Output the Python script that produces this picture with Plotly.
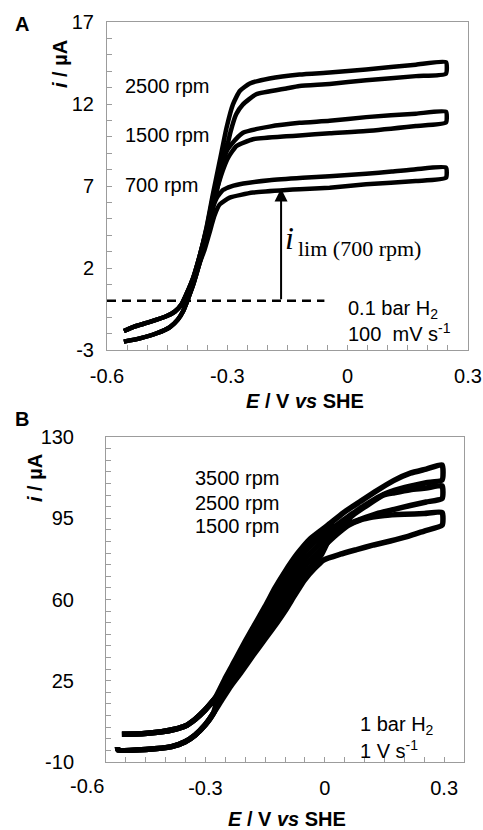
import plotly.graph_objects as go

# ---------------- data ----------------
# Panel A: 0.1 bar H2, 100 mV/s. Common low-potential part of the loops
E_A_left_up = [-0.558, -0.535, -0.493, -0.451, -0.431, -0.414, -0.402, -0.385, -0.369]
I_A_left_up = [-1.84, -1.60, -1.29, -0.93, -0.66, -0.21, 0.40, 1.41, 2.73]
E_A_left_dn = [-0.369, -0.385, -0.400, -0.410, -0.423, -0.443, -0.476, -0.518, -0.558]
I_A_left_dn = [2.32, 1.00, -0.01, -0.62, -1.13, -1.60, -1.98, -2.29, -2.49]

E_A_700_up = [-0.352, -0.340, -0.327, -0.311, -0.290, -0.260, -0.195, -0.112, -0.045, 0.046, 0.110, 0.170, 0.245]
I_A_700_up = [4.30, 5.40, 6.25, 6.75, 6.98, 7.15, 7.35, 7.50, 7.60, 7.75, 7.88, 8.02, 8.12]
E_A_700_dn = [0.245, 0.170, 0.046, -0.045, -0.120, -0.153, -0.236, -0.294, -0.319, -0.332, -0.345, -0.357]
I_A_700_dn = [7.50, 7.30, 7.10, 6.90, 6.80, 6.76, 6.60, 6.29, 5.88, 5.20, 4.10, 3.10]

E_A_1500_up = [-0.352, -0.336, -0.320, -0.305, -0.290, -0.261, -0.195, -0.120, -0.045, 0.046, 0.170, 0.245]
I_A_1500_up = [4.40, 6.30, 8.00, 9.00, 9.54, 10.25, 10.62, 10.85, 10.98, 11.20, 11.41, 11.53]
E_A_1500_dn = [0.245, 0.170, 0.046, -0.045, -0.120, -0.153, -0.236, -0.277, -0.298, -0.312, -0.328, -0.345, -0.358]
I_A_1500_dn = [10.87, 10.66, 10.35, 10.22, 10.08, 10.03, 9.85, 9.44, 8.73, 7.90, 6.60, 4.80, 3.20]

E_A_2500_up = [-0.352, -0.336, -0.319, -0.302, -0.286, -0.269, -0.244, -0.195, -0.120, -0.045, 0.046, 0.170, 0.245]
I_A_2500_up = [4.46, 6.50, 8.52, 10.55, 11.98, 12.79, 13.25, 13.56, 13.80, 13.92, 14.10, 14.40, 14.55]
E_A_2500_dn = [0.245, 0.170, 0.046, -0.045, -0.120, -0.153, -0.228, -0.261, -0.278, -0.292, -0.305, -0.320, -0.337, -0.352, -0.362]
I_A_2500_dn = [13.85, 13.70, 13.45, 13.22, 13.10, 12.95, 12.59, 11.98, 11.37, 10.30, 8.90, 7.40, 5.60, 4.10, 3.00]

A_baseline_E = [-0.6, -0.058]
A_baseline_I = 0.0
A_arrow_E = -0.166
A_arrow_tip_I = 6.85

# Panel B: 1 bar H2, 1 V/s
E_B_left_up = [-0.510, -0.460, -0.410, -0.377, -0.351, -0.326, -0.301, -0.276]
I_B_left_up = [2.0, 2.2, 3.0, 4.1, 5.5, 8.4, 12.4, 17.4]
E_B_left_dn = [-0.280, -0.301, -0.326, -0.351, -0.385, -0.450, -0.520, -0.521]
I_B_left_dn = [11.0, 5.9, 1.6, -1.25, -3.4, -4.6, -4.8, -3.6]

E_B_3500_up = [-0.249, -0.225, -0.200, -0.175, -0.150, -0.125, -0.100, -0.070, -0.037, 0.006, 0.047, 0.089, 0.131, 0.173, 0.215, 0.255, 0.295]
I_B_3500_up = [26.5, 34.0, 42.0, 49.5, 57.0, 65.0, 72.0, 79.5, 86.1, 91.8, 97.4, 102.2, 106.9, 111.2, 114.4, 116.2, 118.0]
E_B_3500_dn = [0.295, 0.255, 0.215, 0.175, 0.148, 0.110, 0.070, 0.030, -0.010, -0.050, -0.090, -0.130, -0.170, -0.210, -0.250, -0.266]
I_B_3500_dn = [111.5, 110.3, 108.8, 107.0, 105.2, 101.5, 97.0, 92.0, 87.0, 80.5, 71.2, 60.3, 48.5, 36.8, 24.8, 19.5]

E_B_2500_up = [-0.250, -0.210, -0.170, -0.130, -0.090, -0.050, -0.010, 0.030, 0.070, 0.110, 0.148, 0.175, 0.215, 0.255, 0.295]
I_B_2500_up = [23.4, 34.8, 45.9, 57.1, 67.8, 77.5, 84.3, 90.5, 96.3, 101.0, 105.0, 106.0, 107.3, 108.0, 109.0]
E_B_2500_dn = [0.295, 0.255, 0.215, 0.175, 0.131, 0.090, 0.047, 0.010, -0.010, -0.050, -0.090, -0.130, -0.170, -0.210, -0.250, -0.262]
I_B_2500_dn = [103.5, 102.0, 100.5, 98.8, 97.0, 94.5, 91.5, 85.5, 78.9, 71.6, 61.1, 50.8, 40.8, 30.7, 20.5, 17.0]

E_B_1500_up = [-0.250, -0.210, -0.170, -0.130, -0.090, -0.050, -0.010, 0.030, 0.060, 0.090, 0.120, 0.150, 0.200, 0.250, 0.295]
I_B_1500_up = [21.9, 32.7, 43.4, 54.0, 64.5, 74.6, 81.6, 88.0, 92.0, 94.3, 95.5, 96.2, 96.7, 97.0, 97.5]
E_B_1500_dn = [0.295, 0.250, 0.207, 0.165, 0.123, 0.080, 0.039, -0.003, -0.025, -0.051, -0.075, -0.100, -0.120, -0.150, -0.180, -0.211, -0.235, -0.259]
I_B_1500_dn = [92.0, 89.5, 87.1, 85.2, 83.5, 81.5, 79.5, 77.0, 73.5, 68.4, 62.0, 55.0, 50.0, 43.0, 36.0, 28.5, 23.0, 16.7]

# axis tick labels (value -> text); minor tick steps
A_xlabels = {-0.6: "-0.6", -0.3: "-0.3", 0.0: "0", 0.3: "0.3"}
A_ylabels = {-3: "-3", 2: "2", 7: "7", 12: "12", 17: "17"}
B_xlabels = {-0.3: "-0.3", 0.0: "0", 0.3: "0.3"}
B_ylabels = {-10: "-10", 25: "25", 60: "60", 95: "95", 130: "130"}
B_outside_xlabel = "-0.6"
A_xstep, A_ystep = 0.05, 1
B_xstep, B_ystep = 0.05, 5

# ---------------- figure ----------------
W, H = 483, 830
GRAY = "#9c9c9c"
SANS = "Liberation Sans, Arial, sans-serif"
SERIF = "Liberation Serif, Times New Roman, serif"


def fx(px):
    return px / W


def fy(py):
    return 1 - py / H


def tick_arrays(lo, hi, step, labels):
    n = int(round((hi - lo) / step))
    vals, texts = [], []
    for k in range(n + 1):
        v = round(lo + k * step, 6)
        vals.append(v)
        txt = ""
        for lv, lt in labels.items():
            if abs(lv - v) < step / 10:
                txt = lt
        texts.append(txt)
    return vals, texts


fig = go.Figure()


def add_loop(parts_E, parts_I, xa, ya, width):
    E, I = [], []
    for pe, pi in zip(parts_E, parts_I):
        E += pe
        I += pi
    fig.add_trace(go.Scatter(
        x=E, y=I, mode="lines", xaxis=xa, yaxis=ya, showlegend=False,
        hoverinfo="skip",
        line=dict(color="black", width=width, shape="spline", smoothing=0.5)))


for up_E, up_I, dn_E, dn_I in [
        (E_A_700_up, I_A_700_up, E_A_700_dn, I_A_700_dn),
        (E_A_1500_up, I_A_1500_up, E_A_1500_dn, I_A_1500_dn),
        (E_A_2500_up, I_A_2500_up, E_A_2500_dn, I_A_2500_dn)]:
    add_loop([E_A_left_up, up_E, dn_E, E_A_left_dn],
             [I_A_left_up, up_I, dn_I, I_A_left_dn], "x", "y", 4.5)

for up_E, up_I, dn_E, dn_I in [
        (E_B_1500_up, I_B_1500_up, E_B_1500_dn, I_B_1500_dn),
        (E_B_2500_up, I_B_2500_up, E_B_2500_dn, I_B_2500_dn),
        (E_B_3500_up, I_B_3500_up, E_B_3500_dn, I_B_3500_dn)]:
    add_loop([E_B_left_up, up_E, dn_E, E_B_left_dn],
             [I_B_left_up, up_I, dn_I, I_B_left_dn], "x2", "y2", 5.5)

axis_common = dict(showline=True, linecolor=GRAY, linewidth=1, mirror=True,
                   ticks="inside", ticklen=5, tickcolor=GRAY, tickwidth=1,
                   showgrid=False, zeroline=False, fixedrange=True,
                   automargin=False, tickmode="array",
                   tickfont=dict(family=SANS, size=20, color="black"))

A_xr, A_yr = [-0.6, 0.3], [-3, 17]
B_xr, B_yr = [-0.55, 0.35], [-10, 130]
ax_v, ax_t = tick_arrays(-0.6, 0.3, A_xstep, A_xlabels)
ay_v, ay_t = tick_arrays(-3, 17, A_ystep, A_ylabels)
bx_v, bx_t = tick_arrays(-0.55, 0.35, B_xstep, B_xlabels)
by_v, by_t = tick_arrays(-10, 130, B_ystep, B_ylabels)

fig.update_layout(
    width=W, height=H,
    margin=dict(l=0, r=0, t=0, b=0, pad=0, autoexpand=False),
    paper_bgcolor="white", plot_bgcolor="white",
    template="none",
    xaxis=dict(axis_common, domain=[fx(107), fx(468)], range=A_xr,
               tickvals=ax_v, ticktext=ax_t, anchor="y", ticklabelstandoff=8),
    yaxis=dict(axis_common, domain=[fy(350), fy(22)], range=A_yr,
               tickvals=ay_v, ticktext=ay_t, anchor="x", ticklabelstandoff=8),
    xaxis2=dict(axis_common, domain=[fx(106), fx(464)], range=B_xr,
                tickvals=bx_v, ticktext=bx_t, anchor="y2", ticklabelstandoff=8),
    yaxis2=dict(axis_common, domain=[fy(762), fy(437)], range=B_yr,
                tickvals=by_v, ticktext=by_t, anchor="x2", ticklabelstandoff=27),
)

# dashed zero line and limiting-current arrow in panel A
fig.add_shape(type="line", xref="x", yref="y",
              x0=A_baseline_E[0], x1=A_baseline_E[1],
              y0=A_baseline_I, y1=A_baseline_I,
              line=dict(color="black", width=2.5, dash="9px,6px"))
fig.add_annotation(x=A_arrow_E, y=A_arrow_tip_I, ax=A_arrow_E, ay=A_baseline_I,
                   xref="x", yref="y", axref="x", ayref="y", text="",
                   showarrow=True, arrowhead=2, arrowwidth=2, arrowsize=1.3,
                   arrowcolor="black")


def label(text, px, py, size=20, family=SANS, xanchor="left", angle=0):
    fig.add_annotation(text=text, x=fx(px), y=fy(py), xref="paper", yref="paper",
                       xanchor=xanchor, yanchor="middle", showarrow=False,
                       textangle=angle,
                       font=dict(family=family, size=size, color="black"))


# panel letters
label("<b>A</b>", 21.5, 24, xanchor="center")
label("<b>B</b>", 21.5, 419, xanchor="center")

# axis titles
label("<b><i>i</i> / µA</b>", 60, 64, xanchor="center", angle=-90)
label("<b><i>E</i> / V <i>vs</i> SHE</b>", 305, 401, xanchor="center")
label("<b><i>i</i> / µA</b>", 35, 478, xanchor="center", angle=-90)
label("<b><i>E</i> / V <i>vs</i> SHE</b>", 287, 819, xanchor="center")

# panel A texts
label("2500 rpm", 123, 86)
label("1500 rpm", 123, 135)
label("700 rpm", 123, 184.5)
label("0.1 bar H<sub>2</sub>", 346, 309)
label("100\u00a0 mV s<sup>-1</sup>", 346, 332.5)
label("<i>i</i>", 283, 237.5, size=32, family=SERIF)
label("lim (700 rpm)", 296, 248.5, size=22, family=SERIF)

# panel B texts
label("3500 rpm", 193, 477.5)
label("2500 rpm", 193, 502.5)
label("1500 rpm", 193, 526)
label("1 bar H<sub>2</sub>", 358, 725)
label("1 V s<sup>-1</sup>", 358, 749.5)
# the "-0.6" label of panel B sits just left of the axis range
label(B_outside_xlabel, 86.5, 786, xanchor="center")

fig.write_html("out.html")
